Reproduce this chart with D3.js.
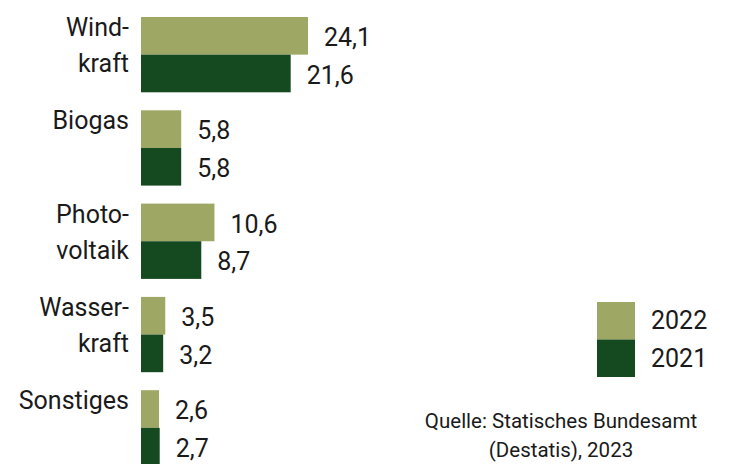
<!DOCTYPE html>
<html>
<head>
<meta charset="utf-8">
<script src="https://cdn.jsdelivr.net/npm/d3@7"></script>
<style>
body { margin: 0; background: #fff; }
text { font-family: "Roboto", "Liberation Sans", sans-serif; fill: #1a1a1a; }
</style>
</head>
<body>
<div id="chart"></div>
<script>
var categories = ["Windkraft", "Biogas", "Photovoltaik", "Wasserkraft", "Sonstiges"];
var labelLines = [["Wind-", "kraft"], ["Biogas"], ["Photo-", "voltaik"], ["Wasser-", "kraft"], ["Sonstiges"]];
var years = ["2022", "2021"];
var values2022 = [24.1, 5.8, 10.6, 3.5, 2.6];
var values2021 = [21.6, 5.8, 8.7, 3.2, 2.7];
var colors = ["#9fa765", "#15491f"];

var width = 743, height = 464;

var svg = d3.select('#chart')
	.append('svg')
	.attr('width', width)
	.attr('height', height);

var x = d3.scaleLinear().domain([0, 24.1]).range([141, 308]);
var step = 93.3, pad = 0.193;
var y = d3.scaleBand().domain(categories).range([17, 17 + step * (5 - pad)]).paddingInner(pad);
var sub = d3.scaleBand().domain(years).range([0, y.bandwidth()]);

var fmt = function(v) { return d3.format(".1f")(v).replace(".", ","); };

var rows = categories.map(function(c, i) {
	return { cat: c, lines: labelLines[i], vals: [values2022[i], values2021[i]] };
});

var g = svg.selectAll('.grp')
	.data(rows)
	.enter().append('g')
	.attr('class', 'grp')
	.attr('transform', function(d) { return 'translate(0,' + y(d.cat) + ')'; });

years.forEach(function(yr, k) {
	g.append('rect')
		.attr('x', x(0))
		.attr('y', sub(yr))
		.attr('width', function(d) { return x(d.vals[k]) - x(0); })
		.attr('height', sub.bandwidth())
		.attr('fill', colors[k]);

	g.append('text')
		.attr('x', function(d) { return x(d.vals[k]) + 16; })
		.attr('y', sub(yr) + 29)
		.attr('font-size', 25)
		.text(function(d) { return fmt(d.vals[k]); });
});

// category labels, one or two lines
g.each(function(d) {
	var sel = d3.select(this);
	d.lines.forEach(function(line, j) {
		sel.append('text')
			.attr('x', 129)
			.attr('y', 19 + j * 36)
			.attr('text-anchor', 'end')
			.attr('font-size', 25)
			.text(line);
	});
});

// legend
var leg = svg.append('g');
years.forEach(function(yr, k) {
	leg.append('rect')
		.attr('x', 597)
		.attr('y', 302 + k * 37.5)
		.attr('width', 38)
		.attr('height', 37.5)
		.attr('fill', colors[k]);
	leg.append('text')
		.attr('x', 651)
		.attr('y', 329 + k * 38)
		.attr('font-size', 25)
		.text(yr);
});

// source
svg.append('text')
	.attr('x', 561)
	.attr('y', 428)
	.attr('text-anchor', 'middle')
	.attr('font-size', 20.5)
	.text('Quelle: Statisches Bundesamt');
svg.append('text')
	.attr('x', 561)
	.attr('y', 457)
	.attr('text-anchor', 'middle')
	.attr('font-size', 20.5)
	.text('(Destatis), 2023');
</script>
</body>
</html>
